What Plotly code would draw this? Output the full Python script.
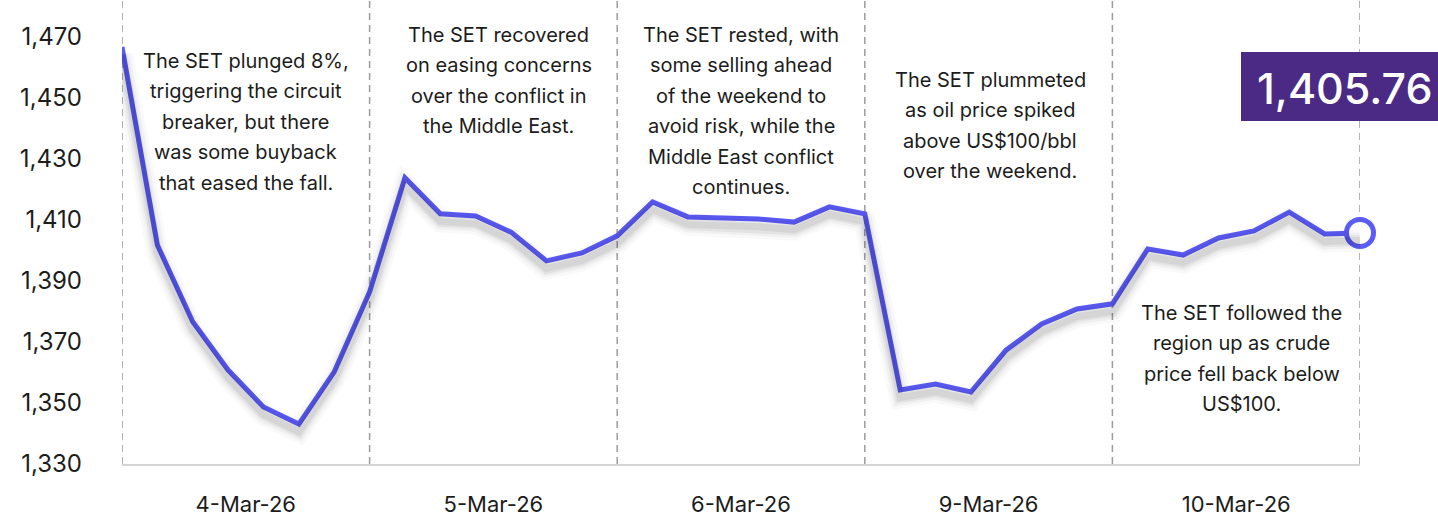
import plotly.graph_objects as go

# ---- data ----
day_labels = ["4-Mar-26", "5-Mar-26", "6-Mar-26", "9-Mar-26", "10-Mar-26"]
points_per_day = 7
set_index = [
    1466.7, 1401.8, 1376.6, 1360.8, 1348.7, 1343.1, 1360.2, 1386.4,
    1423.8, 1412.0, 1411.3, 1406.0, 1396.6, 1399.2, 1404.8,
    1415.9, 1411.0, 1410.7, 1410.3, 1409.3, 1414.3, 1412.0,
    1354.3, 1356.2, 1353.6, 1367.4, 1375.9, 1380.8, 1382.5,
    1400.5, 1398.5, 1404.1, 1406.4, 1412.6, 1405.4, 1405.76,
]
y_ticks = [1330, 1350, 1370, 1390, 1410, 1430, 1450, 1470]
notes = [
    ["The SET plunged 8%,", "triggering the circuit", "breaker, but there",
     "was some buyback", "that eased the fall."],
    ["The SET recovered", "on easing concerns", "over the conflict in",
     "the Middle East."],
    ["The SET rested, with", "some selling ahead", "of the weekend to",
     "avoid risk, while the", "Middle East conflict", "continues."],
    ["The SET plummeted", "as oil price spiked", "above US$100/bbl",
     "over the weekend."],
    ["The SET followed the", "region up as crude", "price fell back below",
     "US$100."],
]

x = list(range(len(set_index)))
boundaries = [i * points_per_day for i in range(len(day_labels) + 1)]
centers = [i * points_per_day + points_per_day / 2 for i in range(len(day_labels))]

FONT = "Inter"
TXT = "#1c1c1c"
LINE = "#5b5bf5"
PLOT_W = 1238  # plot area width in px
PLOT_H = 464   # plot area height in px
LEFT = 122

fig = go.Figure()

# soft shadow (on a slightly shifted overlay axis)
for w, a in [(22, 0.025), (16, 0.035), (11, 0.05), (7, 0.06)]:
    fig.add_trace(go.Scatter(x=x, y=set_index, mode="lines", yaxis="y2",
                             line=dict(color=f"rgba(0,0,0,{a})", width=w),
                             hoverinfo="skip", showlegend=False))

fig.add_trace(go.Scatter(x=x, y=set_index, mode="lines",
                         line=dict(color=LINE, width=5),
                         showlegend=False))
fig.add_trace(go.Scatter(x=[x[-1]], y=[set_index[-1]], mode="markers",
                         marker=dict(size=27, color="white",
                                     line=dict(color=LINE, width=5)),
                         cliponaxis=False, showlegend=False))

# dashed day separators
for b in boundaries:
    fig.add_shape(type="line", xref="x", yref="paper", x0=b, x1=b, y0=0, y1=1,
                  line=dict(color="#9c9c9c", width=1.5, dash="7px,5px"), layer="below")

first_line_px = [61, 35, 35, 80, 313]
note_dx = [0, 0.15, 0, 0.05, 0.15]
LINE_GAP = 30.4
for c, lines, p0, dx in zip(centers, notes, first_line_px, note_dx):
    for k, t in enumerate(lines):
        fig.add_annotation(x=c + dx, y=1 - (p0 + k * LINE_GAP) / PLOT_H,
                           xref="x", yref="paper", text=t,
                           showarrow=False, xanchor="center", yanchor="middle",
                           font=dict(family=FONT, size=20, color=TXT))

# last value label: purple box + white text
fig.add_shape(type="rect", xref="paper", yref="paper",
              x0=(1241 - LEFT) / PLOT_W, x1=(1460 - LEFT) / PLOT_W,
              y0=1 - 121 / PLOT_H, y1=1 - 52 / PLOT_H,
              fillcolor="#4b2a85", line=dict(width=0), layer="above")
fig.add_annotation(x=x[-1], y=1 - 88 / PLOT_H, xref="x", yref="paper",
                   text=f"{set_index[-1]:,.2f}", showarrow=False,
                   xanchor="center", yanchor="middle", xshift=-15,
                   font=dict(family=FONT, size=43, color="white", weight=500))

y_range = [1330, 1482.1]
fig.update_layout(
    width=1438, height=518,
    margin=dict(l=LEFT, r=78, t=0, b=54, autoexpand=False),
    paper_bgcolor="white", plot_bgcolor="white",
    font=dict(family=FONT, color=TXT),
    xaxis=dict(range=[0, len(set_index) - 1], tickvals=centers, ticktext=day_labels,
               showgrid=False, zeroline=False, showline=True, linecolor="#d4d4d4",
               linewidth=2, ticks="", tickfont=dict(size=22, color=TXT),
               ticklabelstandoff=20, automargin=False),
    yaxis=dict(range=y_range, tickvals=y_ticks, ticktext=[f"{v:,}" for v in y_ticks],
               showgrid=False, zeroline=False, showline=False, ticks="",
               tickfont=dict(size=24, color=TXT), ticklabelstandoff=39,
               automargin=False),
    yaxis2=dict(range=[y_range[0] + 2.5, y_range[1] + 2.5], overlaying="y",
                visible=False),
)

fig.write_html("out.html", config={"displayModeBar": False},
               post_script="document.body.style.margin='0';document.body.style.overflow='hidden';")
